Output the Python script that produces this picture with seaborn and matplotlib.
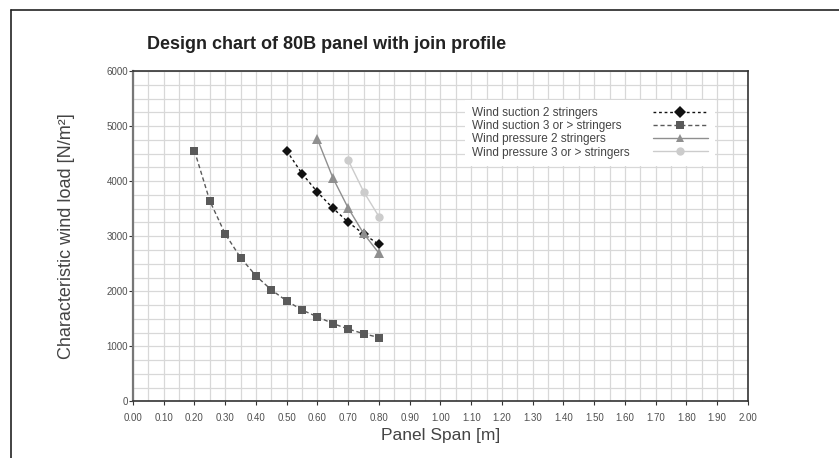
import numpy as np
import pandas as pd
import matplotlib as mpl
import matplotlib.pyplot as plt
import seaborn as sns
from matplotlib.lines import Line2D
from matplotlib.ticker import MultipleLocator

# Design chart data (panel span [m] vs characteristic wind load [N/m2])
suction_2_span = [0.50, 0.55, 0.60, 0.65, 0.70, 0.75, 0.80]
suction_2_load = [4550, 4135, 3800, 3510, 3255, 3040, 2850]

suction_3_span = [0.20, 0.25, 0.30, 0.35, 0.40, 0.45, 0.50, 0.55, 0.60, 0.65, 0.70, 0.75, 0.80]
suction_3_load = [4550, 3640, 3040, 2610, 2280, 2025, 1825, 1660, 1535, 1415, 1315, 1230, 1160]

pressure_2_span = [0.60, 0.65, 0.70, 0.75, 0.80]
pressure_2_load = [4760, 4060, 3510, 3050, 2690]

pressure_3_span = [0.70, 0.75, 0.80]
pressure_3_load = [4380, 3810, 3355]

series_names = ['Wind suction 2 stringers',
                'Wind suction 3 or > stringers',
                'Wind pressure 2 stringers',
                'Wind pressure 3 or > stringers']

x_ticks = [0.0, 0.1, 0.2, 0.3, 0.4, 0.5, 0.6, 0.7, 0.8, 0.9, 1.0,
           1.1, 1.2, 1.3, 1.4, 1.5, 1.6, 1.7, 1.8, 1.9, 2.0]
y_ticks = [0, 1000, 2000, 3000, 4000, 5000, 6000]

# Long format frame for seaborn
df = pd.concat([
    pd.DataFrame({'span': suction_2_span, 'load': suction_2_load, 'series': series_names[0]}),
    pd.DataFrame({'span': suction_3_span, 'load': suction_3_load, 'series': series_names[1]}),
    pd.DataFrame({'span': pressure_2_span, 'load': pressure_2_load, 'series': series_names[2]}),
    pd.DataFrame({'span': pressure_3_span, 'load': pressure_3_load, 'series': series_names[3]}),
]).reset_index(drop = True)

palette = dict(zip(series_names, ['#111111', '#5a5a5a', '#8f8f8f', '#cccccc']))
markers = dict(zip(series_names, ['D', 's', '^', 'o']))
dashes = dict(zip(series_names, [(2, 2), (3, 2), '', '']))
marker_sizes = [5.5, 6, 7, 6]

sns.set_theme(style = 'white')
plt.rcParams['font.family'] = ['Liberation Sans', 'DejaVu Sans']

fig = plt.figure(figsize = (8.39, 4.58), dpi = 100)
ax = fig.add_axes([0.1585, 0.1235, 0.733, 0.7215])

sns.lineplot(ax = ax,
             data = df,
             x = 'span',
             y = 'load',
             hue = 'series',
             style = 'series',
             palette = palette,
             markers = markers,
             dashes = dashes,
             markersize = 6,
             markeredgewidth = 0,
             linewidth = 1)

for line, size in zip(ax.lines[:4], marker_sizes):
    line.set_markersize(size)

ax.set(xlim = (0, 2.0), ylim = (0, 6000))
ax.set_xticks(x_ticks)
ax.set_xticklabels(['{:.2f}'.format(t) for t in x_ticks])
ax.set_yticks(y_ticks)
ax.set_yticklabels([str(t) for t in y_ticks])
ax.xaxis.set_minor_locator(MultipleLocator(0.05))
ax.yaxis.set_minor_locator(MultipleLocator(250))
ax.grid(which = 'both', color = '#d8d8d8', linewidth = 0.9)
ax.set_axisbelow(True)
ax.tick_params(which = 'major', direction = 'out', length = 3, width = 0.8,
               color = '#333333', labelsize = 7, labelcolor = '#505050',
               bottom = True, left = True)
ax.tick_params(axis = 'x', which = 'major', pad = 5)
ax.tick_params(axis = 'y', which = 'major', pad = 0.5)
ax.tick_params(which = 'minor', length = 0)

for side in ['top', 'right', 'bottom']:
    ax.spines[side].set_color('#333333')
    ax.spines[side].set_linewidth(1.2)
ax.spines['left'].set_color('#777777')
ax.spines['left'].set_linewidth(1.6)

ax.set_xlabel('Panel Span [m]', fontsize = 12.5, color = '#444444', labelpad = 4)
ax.set_ylabel('Characteristic wind load [N/m²]', fontsize = 13, color = '#444444')
ax.yaxis.set_label_coords(-0.094, 0.5)

# Legend: labels on the left, line samples on the right
handles, labels = ax.get_legend_handles_labels()
legend_style = dict(loc = 'upper left',
                    bbox_transform = fig.transFigure,
                    fontsize = 8.5,
                    labelspacing = 0.1,
                    borderpad = 0.6,
                    borderaxespad = 0,
                    frameon = True,
                    fancybox = False,
                    framealpha = 1,
                    facecolor = 'white',
                    edgecolor = 'none')

leg_text = ax.legend(handles, labels,
                     bbox_to_anchor = (0.5542, 0.7817),
                     handlelength = 0,
                     handletextpad = 0,
                     **legend_style)
for h in leg_text.legend_handles:
    h.set_visible(False)
for text in leg_text.get_texts():
    text.set_color('#444444')
ax.add_artist(leg_text)

leg_marks = ax.legend(handles, [''] * len(handles),
                      bbox_to_anchor = (0.7533, 0.7817),
                      markerfirst = False,
                      handlelength = 4.6,
                      handletextpad = 1.2,
                      **legend_style)

fig.text(0.175, 0.902, 'Design chart of 80B panel with join profile',
         fontsize = 13, fontweight = 'bold', color = '#222222', va = 'center', ha = 'left')

# Page frame (left and top rule)
fig.add_artist(Line2D([0.0131, 0.0131], [0, 0.978], transform = fig.transFigure,
                      color = '#222222', linewidth = 1.2))
fig.add_artist(Line2D([0.0131, 1.0], [0.978, 0.978], transform = fig.transFigure,
                      color = '#222222', linewidth = 1.2))

fig.savefig('out.png', dpi = 100)
plt.close()
